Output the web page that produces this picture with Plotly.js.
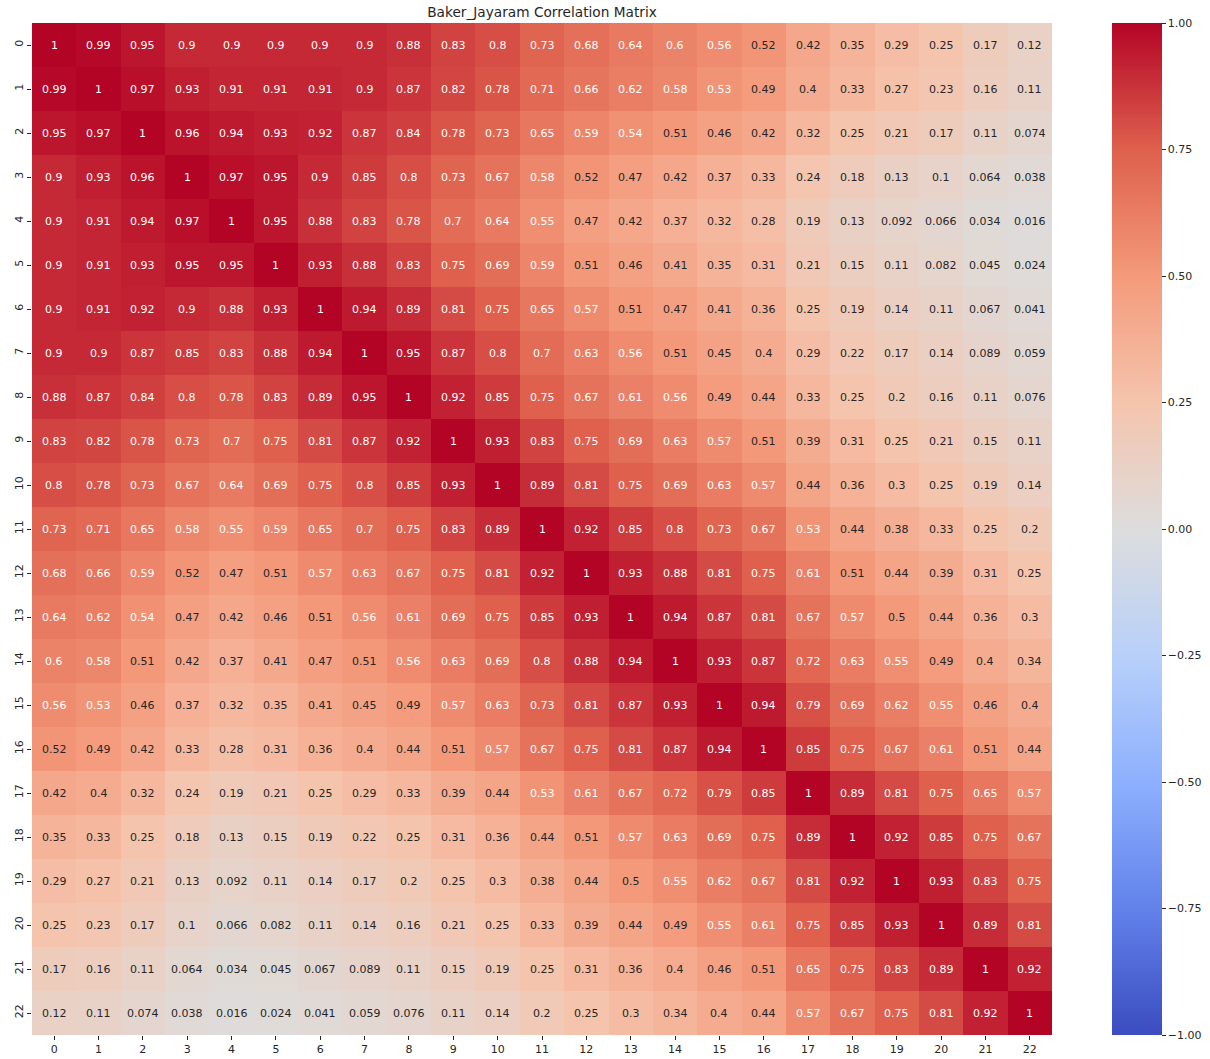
<!DOCTYPE html>
<html>
<head>
<meta charset="utf-8">
<script src="https://cdn.plot.ly/plotly-3.0.1.min.js"></script>
<style>
html,body{margin:0;padding:0;background:#fff;}
#chart{width:1210px;height:1059px;}
</style>
</head>
<body>
<div id="chart"></div>
<script>
const labels = ["0","1","2","3","4","5","6","7","8","9","10","11","12","13","14","15","16","17","18","19","20","21","22"];

const row0  = [1, 0.99, 0.95, 0.9, 0.9, 0.9, 0.9, 0.9, 0.88, 0.83, 0.8, 0.73, 0.68, 0.64, 0.6, 0.56, 0.52, 0.42, 0.35, 0.29, 0.25, 0.17, 0.12];
const row1  = [0.99, 1, 0.97, 0.93, 0.91, 0.91, 0.91, 0.9, 0.87, 0.82, 0.78, 0.71, 0.66, 0.62, 0.58, 0.53, 0.49, 0.4, 0.33, 0.27, 0.23, 0.16, 0.11];
const row2  = [0.95, 0.97, 1, 0.96, 0.94, 0.93, 0.92, 0.87, 0.84, 0.78, 0.73, 0.65, 0.59, 0.54, 0.51, 0.46, 0.42, 0.32, 0.25, 0.21, 0.17, 0.11, 0.074];
const row3  = [0.9, 0.93, 0.96, 1, 0.97, 0.95, 0.9, 0.85, 0.8, 0.73, 0.67, 0.58, 0.52, 0.47, 0.42, 0.37, 0.33, 0.24, 0.18, 0.13, 0.1, 0.064, 0.038];
const row4  = [0.9, 0.91, 0.94, 0.97, 1, 0.95, 0.88, 0.83, 0.78, 0.7, 0.64, 0.55, 0.47, 0.42, 0.37, 0.32, 0.28, 0.19, 0.13, 0.092, 0.066, 0.034, 0.016];
const row5  = [0.9, 0.91, 0.93, 0.95, 0.95, 1, 0.93, 0.88, 0.83, 0.75, 0.69, 0.59, 0.51, 0.46, 0.41, 0.35, 0.31, 0.21, 0.15, 0.11, 0.082, 0.045, 0.024];
const row6  = [0.9, 0.91, 0.92, 0.9, 0.88, 0.93, 1, 0.94, 0.89, 0.81, 0.75, 0.65, 0.57, 0.51, 0.47, 0.41, 0.36, 0.25, 0.19, 0.14, 0.11, 0.067, 0.041];
const row7  = [0.9, 0.9, 0.87, 0.85, 0.83, 0.88, 0.94, 1, 0.95, 0.87, 0.8, 0.7, 0.63, 0.56, 0.51, 0.45, 0.4, 0.29, 0.22, 0.17, 0.14, 0.089, 0.059];
const row8  = [0.88, 0.87, 0.84, 0.8, 0.78, 0.83, 0.89, 0.95, 1, 0.92, 0.85, 0.75, 0.67, 0.61, 0.56, 0.49, 0.44, 0.33, 0.25, 0.2, 0.16, 0.11, 0.076];
const row9  = [0.83, 0.82, 0.78, 0.73, 0.7, 0.75, 0.81, 0.87, 0.92, 1, 0.93, 0.83, 0.75, 0.69, 0.63, 0.57, 0.51, 0.39, 0.31, 0.25, 0.21, 0.15, 0.11];
const row10 = [0.8, 0.78, 0.73, 0.67, 0.64, 0.69, 0.75, 0.8, 0.85, 0.93, 1, 0.89, 0.81, 0.75, 0.69, 0.63, 0.57, 0.44, 0.36, 0.3, 0.25, 0.19, 0.14];
const row11 = [0.73, 0.71, 0.65, 0.58, 0.55, 0.59, 0.65, 0.7, 0.75, 0.83, 0.89, 1, 0.92, 0.85, 0.8, 0.73, 0.67, 0.53, 0.44, 0.38, 0.33, 0.25, 0.2];
const row12 = [0.68, 0.66, 0.59, 0.52, 0.47, 0.51, 0.57, 0.63, 0.67, 0.75, 0.81, 0.92, 1, 0.93, 0.88, 0.81, 0.75, 0.61, 0.51, 0.44, 0.39, 0.31, 0.25];
const row13 = [0.64, 0.62, 0.54, 0.47, 0.42, 0.46, 0.51, 0.56, 0.61, 0.69, 0.75, 0.85, 0.93, 1, 0.94, 0.87, 0.81, 0.67, 0.57, 0.5, 0.44, 0.36, 0.3];
const row14 = [0.6, 0.58, 0.51, 0.42, 0.37, 0.41, 0.47, 0.51, 0.56, 0.63, 0.69, 0.8, 0.88, 0.94, 1, 0.93, 0.87, 0.72, 0.63, 0.55, 0.49, 0.4, 0.34];
const row15 = [0.56, 0.53, 0.46, 0.37, 0.32, 0.35, 0.41, 0.45, 0.49, 0.57, 0.63, 0.73, 0.81, 0.87, 0.93, 1, 0.94, 0.79, 0.69, 0.62, 0.55, 0.46, 0.4];
const row16 = [0.52, 0.49, 0.42, 0.33, 0.28, 0.31, 0.36, 0.4, 0.44, 0.51, 0.57, 0.67, 0.75, 0.81, 0.87, 0.94, 1, 0.85, 0.75, 0.67, 0.61, 0.51, 0.44];
const row17 = [0.42, 0.4, 0.32, 0.24, 0.19, 0.21, 0.25, 0.29, 0.33, 0.39, 0.44, 0.53, 0.61, 0.67, 0.72, 0.79, 0.85, 1, 0.89, 0.81, 0.75, 0.65, 0.57];
const row18 = [0.35, 0.33, 0.25, 0.18, 0.13, 0.15, 0.19, 0.22, 0.25, 0.31, 0.36, 0.44, 0.51, 0.57, 0.63, 0.69, 0.75, 0.89, 1, 0.92, 0.85, 0.75, 0.67];
const row19 = [0.29, 0.27, 0.21, 0.13, 0.092, 0.11, 0.14, 0.17, 0.2, 0.25, 0.3, 0.38, 0.44, 0.5, 0.55, 0.62, 0.67, 0.81, 0.92, 1, 0.93, 0.83, 0.75];
const row20 = [0.25, 0.23, 0.17, 0.1, 0.066, 0.082, 0.11, 0.14, 0.16, 0.21, 0.25, 0.33, 0.39, 0.44, 0.49, 0.55, 0.61, 0.75, 0.85, 0.93, 1, 0.89, 0.81];
const row21 = [0.17, 0.16, 0.11, 0.064, 0.034, 0.045, 0.067, 0.089, 0.11, 0.15, 0.19, 0.25, 0.31, 0.36, 0.4, 0.46, 0.51, 0.65, 0.75, 0.83, 0.89, 1, 0.92];
const row22 = [0.12, 0.11, 0.074, 0.038, 0.016, 0.024, 0.041, 0.059, 0.076, 0.11, 0.14, 0.2, 0.25, 0.3, 0.34, 0.4, 0.44, 0.57, 0.67, 0.75, 0.81, 0.92, 1];

const matrix = [row0,row1,row2,row3,row4,row5,row6,row7,row8,row9,row10,row11,row12,row13,row14,row15,row16,row17,row18,row19,row20,row21,row22];

const cbTickVals = [-1, -0.75, -0.5, -0.25, 0, 0.25, 0.5, 0.75, 1];

const coolwarm = [
  [0.0,   'rgb(59,76,192)'],
  [0.125, 'rgb(98,130,234)'],
  [0.25,  'rgb(141,176,254)'],
  [0.375, 'rgb(184,208,249)'],
  [0.5,   'rgb(221,221,221)'],
  [0.625, 'rgb(245,196,173)'],
  [0.75,  'rgb(244,154,123)'],
  [0.875, 'rgb(222,96,77)'],
  [1.0,   'rgb(180,4,38)']
];

const FONT = '"DejaVu Sans", "Liberation Sans", sans-serif';

function fmt(v){ return String(Number(v.toPrecision(2))); }

const annotations = [];
for (let i = 0; i < labels.length; i++) {
  for (let j = 0; j < labels.length; j++) {
    const v = matrix[i][j];
    annotations.push({
      x: labels[j], y: labels[i], xref: 'x', yref: 'y',
      text: fmt(v), showarrow: false,
      font: {family: FONT, size: 11, color: v > 0.525 ? '#ffffff' : '#262626'}
    });
  }
}

const trace = {
  type: 'heatmap',
  x: labels, y: labels, z: matrix,
  zmin: -1, zmax: 1,
  colorscale: coolwarm,
  colorbar: {
    x: 1.0588, xanchor: 'left', xref: 'paper',
    y: 0.5, yanchor: 'middle', len: 1, lenmode: 'fraction',
    xpad: 0, ypad: 0,
    thickness: 50, thicknessmode: 'pixels',
    outlinewidth: 0,
    tickvals: cbTickVals, tickformat: '.2f', tickprefix: '\u00a0',
    ticks: 'outside', ticklen: 4, tickwidth: 1, tickcolor: '#262626',
    tickfont: {family: FONT, size: 11, color: '#262626'}
  }
};

const layout = {
  width: 1210, height: 1059,
  margin: {l: 32, r: 158, t: 23, b: 24, pad: 0, autoexpand: false},
  paper_bgcolor: '#ffffff', plot_bgcolor: '#ffffff',
  title: {
    text: 'Baker_Jayaram Correlation Matrix',
    font: {family: FONT, size: 13.7, color: '#262626'},
    x: 0.5, xref: 'paper', xanchor: 'center',
    y: 1 - 12/1059, yref: 'container', yanchor: 'middle'
  },
  xaxis: {
    type: 'category', showgrid: false, zeroline: false, showline: false,
    ticks: 'outside', ticklen: 4, tickwidth: 1, tickcolor: '#262626',
    tickfont: {family: FONT, size: 11, color: '#262626'},
    tickangle: 0, automargin: false
  },
  yaxis: {
    type: 'category', autorange: 'reversed', showgrid: false, zeroline: false, showline: false,
    ticks: 'outside', ticklen: 4, tickwidth: 1, tickcolor: '#262626',
    tickfont: {family: FONT, size: 11, color: '#262626'},
    tickangle: -90, automargin: false
  },
  annotations: annotations,
  showlegend: false
};

Plotly.newPlot('chart', [trace], layout, {displayModeBar: false, staticPlot: true});
</script>
</body>
</html>
